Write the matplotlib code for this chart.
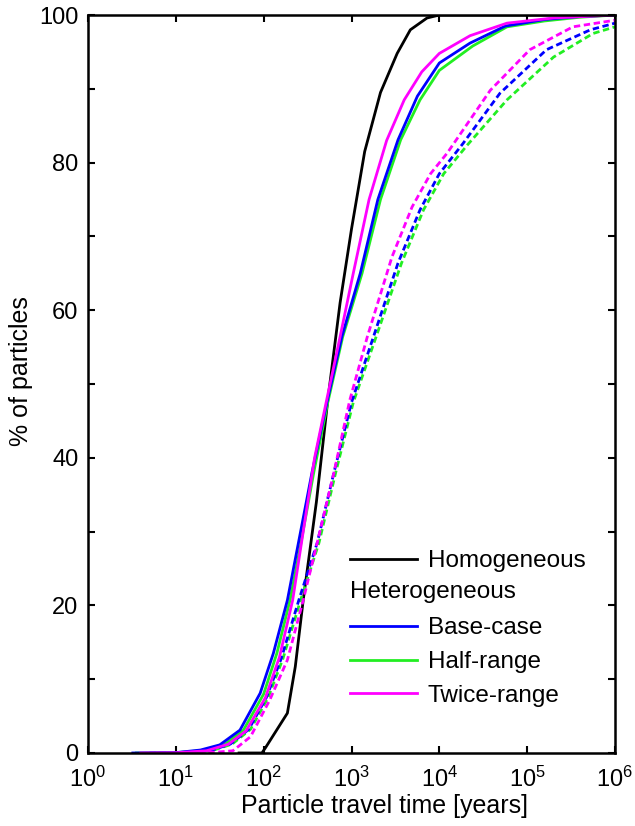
import numpy as np
import matplotlib
matplotlib.use("Agg")
import matplotlib.pyplot as plt
from matplotlib.lines import Line2D
from matplotlib.text import Text
from matplotlib.legend_handler import HandlerBase
from matplotlib.ticker import LogLocator, MultipleLocator, NullLocator

plt.rcParams['font.family'] = ['Liberation Sans', 'DejaVu Sans']
plt.rcParams['mathtext.fontset'] = 'custom'
plt.rcParams['mathtext.rm'] = 'Liberation Sans'
plt.rcParams['mathtext.default'] = 'regular'

# travel times given as log10(years), cumulative % of particles
homog_lt = [1.72, 1.98, 2.02, 2.27, 2.36, 2.45, 2.6, 2.73, 2.87, 3.0, 3.15, 3.33, 3.52, 3.67, 3.86, 4.0, 6.0]
homog_p = [0, 0, 0.7, 5.4, 11.7, 20.7, 34, 47.8, 61, 71, 81.5, 89.5, 94.8, 98, 99.6, 100, 100]

base_lt = [0.51, 1.0, 1.28, 1.5, 1.73, 1.96, 2.11, 2.27, 2.38, 2.55, 2.72, 2.89, 3.10, 3.30, 3.53, 3.75, 4.0, 4.35, 4.75, 5.2, 5.6, 6.0]
base_p = [0, 0.05, 0.4, 1.1, 3.1, 8.1, 13.5, 20.7, 27.5, 38, 47.5, 56.4, 65, 75, 83.1, 89, 93.5, 96.2, 98.5, 99.4, 99.8, 100]

half_lt = [0.55, 1.0, 1.32, 1.55, 1.77, 2.0, 2.15, 2.3, 2.41, 2.57, 2.73, 2.9, 3.12, 3.33, 3.56, 3.78, 4.0, 4.38, 4.77, 5.2, 5.6, 6.0]
half_p = [0, 0.04, 0.35, 1.1, 3.1, 8.0, 13.5, 20.7, 27.5, 38, 47.5, 56.4, 65, 75, 83.1, 88.5, 92.5, 95.8, 98.4, 99.2, 99.7, 100]

twice_lt = [0.6, 1.0, 1.35, 1.6, 1.8, 2.02, 2.18, 2.33, 2.45, 2.58, 2.72, 2.87, 3.02, 3.2, 3.4, 3.6, 3.8, 4.0, 4.35, 4.77, 5.3, 6.0]
twice_p = [0, 0.03, 0.3, 1.2, 3.0, 7.5, 13, 20.7, 30, 40, 48, 56.4, 65, 75, 83, 88.5, 92.3, 94.8, 97.2, 98.9, 99.6, 100]

base_d_lt = [0.7, 1.1, 1.4, 1.62, 1.83, 2.03, 2.2, 2.4, 2.61, 2.8, 3.0, 3.25, 3.53, 3.78, 4.0, 4.27, 4.69, 5.22, 5.72, 6.0]
base_d_p = [0, 0.05, 0.35, 1.2, 3.2, 7.5, 12.8, 20.7, 28.5, 38, 47.5, 56.4, 66.4, 73.6, 78.5, 82.6, 89.4, 95.3, 98, 98.9]

half_d_lt = [0.75, 1.15, 1.42, 1.64, 1.85, 2.05, 2.22, 2.42, 2.63, 2.82, 3.02, 3.28, 3.57, 3.82, 4.05, 4.32, 4.77, 5.3, 5.75, 6.0]
half_d_p = [0, 0.05, 0.35, 1.2, 3.2, 7.5, 12.8, 20.7, 28.5, 38, 47.5, 56.4, 66.4, 73.6, 78.5, 82.4, 88.5, 94.3, 97.5, 98.4]

twice_d_lt = [0.8, 1.2, 1.45, 1.65, 1.85, 2.07, 2.27, 2.45, 2.62, 2.8, 2.98, 3.18, 3.46, 3.69, 3.9, 4.09, 4.58, 5.03, 5.52, 6.0]
twice_d_p = [0, 0.03, 0.1, 0.3, 2.2, 7.2, 12.6, 20.7, 29, 38, 47.8, 56.4, 67.2, 74, 78.5, 81.3, 89.8, 95.3, 98.4, 99.3]

BLUE = '#0000ff'
GREEN = '#22ee22'
MAGENTA = '#ff00ff'
LW = 2.0
DASH = (0, (2.3, 1.3))
FS_TICK = 17
FS_LABEL = 18
FS_LEG = 17.5


class HeaderHandle:
    def __init__(self, text):
        self.text = text


class HeaderHandler(HandlerBase):
    # draws the label text in the handle slot so it lines up with the lines
    def create_artists(self, legend, orig_handle, xdescent, ydescent,
                       width, height, fontsize, trans):
        t = Text(x=-xdescent, y=-ydescent + height / 2.0, text=orig_handle.text,
                 fontsize=fontsize, ha='left', va='center', transform=trans)
        return [t]


fig = plt.figure(figsize=(6.35, 8.26), dpi=100)
ax = fig.add_axes([0.1386, 0.0884, 0.8299, 0.8934])

ax.plot(10 ** np.array(homog_lt), homog_p, color='k', lw=LW)
ax.plot(10 ** np.array(half_d_lt), half_d_p, color=GREEN, lw=LW, linestyle=DASH)
ax.plot(10 ** np.array(base_d_lt), base_d_p, color=BLUE, lw=LW, linestyle=DASH)
ax.plot(10 ** np.array(twice_d_lt), twice_d_p, color=MAGENTA, lw=LW, linestyle=DASH)
ax.plot(10 ** np.array(half_lt), half_p, color=GREEN, lw=LW)
ax.plot(10 ** np.array(base_lt), base_p, color=BLUE, lw=LW)
ax.plot(10 ** np.array(twice_lt), twice_p, color=MAGENTA, lw=LW)

ax.set_xscale('log')
ax.set_xlim(1, 1e6)
ax.set_ylim(0, 100)
ax.xaxis.set_major_locator(LogLocator(base=10, numticks=10))
ax.xaxis.set_minor_locator(NullLocator())
ax.yaxis.set_major_locator(MultipleLocator(20))
ax.yaxis.set_minor_locator(MultipleLocator(10))

for sp in ax.spines.values():
    sp.set_linewidth(1.8)
ax.tick_params(which='both', direction='in', top=True, right=True,
               length=5, width=1.5, labelsize=FS_TICK)
ax.tick_params(axis='x', pad=10)
ax.tick_params(axis='y', pad=7)

ax.set_xlabel('Particle travel time [years]', fontsize=FS_LABEL)
ax.set_ylabel('% of particles', fontsize=FS_LABEL)
ax.xaxis.set_label_coords(0.562, -0.055)
ax.yaxis.set_label_coords(-0.104, 0.518)

handles = [Line2D([], [], color='k', lw=LW),
           HeaderHandle('Heterogeneous'),
           Line2D([], [], color=BLUE, lw=LW),
           Line2D([], [], color=GREEN, lw=LW),
           Line2D([], [], color=MAGENTA, lw=LW)]
labels = ['Homogeneous', '', 'Base-case', 'Half-range', 'Twice-range']
ax.legend(handles, labels, loc='upper left', bbox_to_anchor=(0.497, 0.275),
          frameon=False, fontsize=FS_LEG, handlelength=2.75, handletextpad=0.45,
          labelspacing=0.48, borderpad=0, borderaxespad=0,
          handler_map={HeaderHandle: HeaderHandler()})

fig.savefig('out.png', dpi=100)
